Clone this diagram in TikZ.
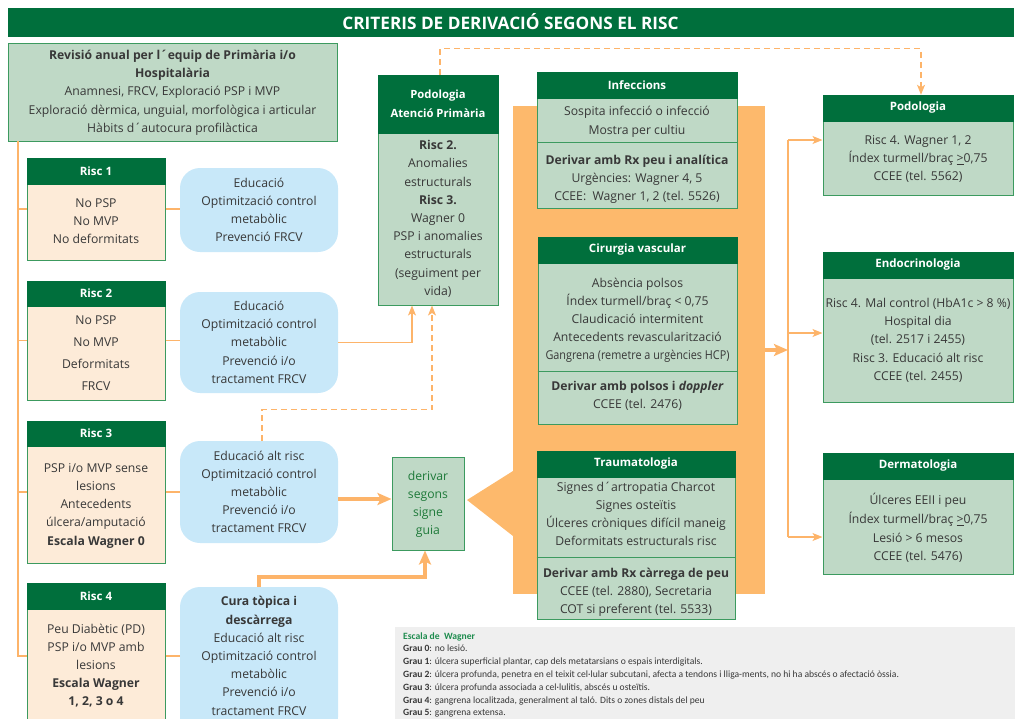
\documentclass[tikz,border=0pt]{standalone}
\usepackage{fontspec}
\usepackage{graphicx}
\setmainfont{Open Sans}
\newfontfamily\legendfont{Carlito}
\usetikzlibrary{arrows.meta}

\definecolor{hdgreen}{HTML}{006F3C}
\definecolor{panelgreen}{HTML}{BFD9C6}
\definecolor{edgegreen}{HTML}{3C9A5F}
\definecolor{peach}{HTML}{FDEBD8}
\definecolor{skyblue}{HTML}{C8E8F9}
\definecolor{orangefill}{HTML}{FDB96C}
\definecolor{orangeline}{HTML}{FDB46A}
\definecolor{inktext}{HTML}{383838}
\definecolor{guidegreen}{HTML}{1F7A3A}
\definecolor{legendgreen}{HTML}{1E8C4E}
\definecolor{legendgray}{HTML}{EFEFEF}

% "greater or equal" printed as an underlined >
\newcommand\undergt{\underline{>}}
% squeeze one line of text to at most a given width, keeping its height
\newsavebox\squeezebox
\newcommand\squeezeto[2]{\sbox\squeezebox{#2}%
  \ifdim\wd\squeezebox>#1pt\resizebox{#1pt}{\height}{\usebox\squeezebox}\else\usebox\squeezebox\fi}

\tikzset{
  hdr/.style={fill=hdgreen, draw=hdgreen, text=white, inner sep=0pt,
    font=\bfseries\fontsize{11.5}{13}\selectfont},
  panel/.style={fill=panelgreen, draw=edgegreen, line width=1pt, inner sep=0pt},
  riscframe/.style={fill=peach, draw=edgegreen, line width=1pt, inner sep=0pt},
  blob/.style={fill=skyblue, rounded corners=20pt, inner sep=0pt},
  body/.style={align=center, text=inktext, inner sep=0pt, yshift=-3pt,
    font=\fontsize{12.2}{18.2}\selectfont,
    execute at begin node=\strut, execute at end node=\strut},
  edge/.style={draw=edgegreen, line width=1pt},
  wire/.style={draw=orangeline, line width=1.2pt},
  wirearrow/.style={wire, -{Stealth[length=10pt,width=8pt,inset=2.5pt]}},
  dasharrow/.style={wirearrow, dash pattern=on 6pt off 4pt},
  fatarrow/.style={draw=orangeline, line width=4pt, -{Stealth[length=14pt,width=12pt,inset=3pt]}},
}

\begin{document}
\begin{tikzpicture}[x=1pt,y=-1pt]
\useasboundingbox (0,0) rectangle (1015,718);

% title bar
\node[hdr, minimum width=1005, minimum height=28,
  font=\bfseries\fontsize{17.2}{19}\selectfont] (title) at (510.5,22)
  {CRITERIS DE DERIVACIÓ SEGONS EL RISC};

% annual review
\node[panel, minimum width=329, minimum height=98] (review) at (172.5,92) {};
\node[body] (reviewtxt) at (172.5,91)
  {\textbf{Revisió anual per l´equip de Primària i/o}\\\textbf{Hospitalària}\\
   Anamnesi, FRCV, Exploració PSP i MVP\\
   \squeezeto{300}{Exploració dèrmica, unguial, morfològica i articular}\\
   Hàbits d´autocura profilàctica};

% risk levels
\node[riscframe, minimum width=138, minimum height=102] (risc1) at (96,209) {};
\node[hdr, minimum width=138, minimum height=26] (risc1h) at (96,171) {Risc 1};
\node[body] (risc1txt) at (96,221) {No PSP\\No MVP\\No deformitats};

\node[riscframe, minimum width=138, minimum height=119] (risc2) at (96,340.5) {};
\node[hdr, minimum width=138, minimum height=25] (risc2h) at (96,293.5) {Risc 2};
\node[body, font=\fontsize{12.2}{22}\selectfont] (risc2txt) at (96,353)
  {No PSP\\No MVP\\Deformitats\\FRCV};

\node[riscframe, minimum width=138, minimum height=142] (risc3) at (96,492) {};
\node[hdr, minimum width=138, minimum height=25] (risc3h) at (96,433.5) {Risc 3};
\node[body] (risc3txt) at (96,504)
  {PSP i/o MVP sense\\lesions\\Antecedents\\úlcera/amputació\\\textbf{Escala Wagner 0}};

\node[riscframe, minimum width=138, minimum height=146] (risc4) at (96,656) {};
\node[hdr, minimum width=138, minimum height=26] (risc4h) at (96,596) {Risc 4};
\node[body] (risc4txt) at (96,664.5)
  {Peu Diabètic (PD)\\PSP i/o MVP amb\\lesions\\\textbf{Escala Wagner}\\\textbf{1, 2, 3 o 4}};

% actions per risk level
\node[blob, minimum width=158, minimum height=84] (blob1) at (259,210) {};
\node[body] (blob1txt) at (259,209.5)
  {Educació\\Optimització control\\metabòlic\\Prevenció FRCV};
\node[blob, minimum width=158, minimum height=101] (blob2) at (259,342.5) {};
\node[body] (blob2txt) at (259,342)
  {Educació\\Optimització control\\metabòlic\\Prevenció i/o\\tractament FRCV};
\node[blob, minimum width=158, minimum height=102] (blob3) at (259,492) {};
\node[body] (blob3txt) at (259,491.5)
  {Educació alt risc\\Optimització control\\metabòlic\\Prevenció i/o\\tractament FRCV};
\node[blob, minimum width=158, minimum height=150] (blob4) at (259,662) {};
\node[body] (blob4txt) at (259,655.5)
  {\textbf{Cura tòpica i}\\\textbf{descàrrega}\\Educació alt risc\\Optimització control\\metabòlic\\Prevenció i/o\\tractament FRCV};

% primary-care podiatry
\node[panel, minimum width=120, minimum height=230] (podAP) at (438,190) {};
\node[hdr, minimum width=120, minimum height=58, align=center,
  font=\bfseries\fontsize{11.3}{19}\selectfont] (podAPh) at (438,104)
  {Podologia\\Atenció Primària};
\node[body] (podAPtxt) at (438,217.5)
  {\textbf{Risc 2.}\\Anomalies\\estructurals\\\textbf{Risc 3.}\\Wagner 0\\PSP i anomalies\\estructurals\\(seguiment per\\vida)};

% referral by guiding sign
\node[fill=orangefill, minimum width=252, minimum height=488, inner sep=0pt] (hub) at (639,350) {};
\fill[orangefill] (513,471) -- (467,500) -- (513,536) -- cycle;
\node[panel, minimum width=72, minimum height=93] (guide) at (428,503.5) {};
\node[body, text=guidegreen] (guidetxt) at (428,502.5) {derivar\\segons\\signe\\guia};

% infections
\node[panel, minimum width=200, minimum height=110] (infB) at (637,153) {};
\node[hdr, minimum width=200, minimum height=26] (infH) at (637,85) {Infeccions};
\draw[edge] (infB.west |- 0,142) -- (infB.east |- 0,142);
\node[body] (inftxtA) at (637,120) {Sospita infecció o infecció\\Mostra per cultiu};
\node[body] (inftxtB) at (637,177.5)
  {\textbf{Derivar amb Rx peu i analítica}\\Urgències: Wagner 4, 5\\CCEE:~ Wagner 1, 2 (tel. 5526)};

% vascular surgery
\node[panel, minimum width=199, minimum height=161] (vasB) at (637.5,343.5) {};
\node[hdr, minimum width=199, minimum height=26] (vasH) at (637.5,250) {Cirurgia vascular};
\draw[edge] (vasB.west |- 0,371) -- (vasB.east |- 0,371);
\node[body] (vastxtA) at (637.5,318.5)
  {Absència polsos\\Índex turmell/braç < 0,75\\Claudicació intermitent\\
   \squeezeto{172}{Antecedents revascularització}\\
   \squeezeto{184}{Gangrena (remetre a urgències HCP)}};
\node[body] (vastxtB) at (637.5,394.5)
  {\textbf{Derivar amb polsos i \textit{doppler}}\\CCEE (tel. 2476)};

% traumatology
\node[panel, minimum width=198, minimum height=142] (traB) at (636,548) {};
\node[hdr, minimum width=198, minimum height=26] (traH) at (636,464) {Traumatologia};
\draw[edge] (traB.west |- 0,557) -- (traB.east |- 0,557);
\node[body] (tratxtA) at (636,513.5)
  {Signes d´artropatia Charcot\\Signes osteïtis\\\squeezeto{184}{Úlceres cròniques difícil maneig}\\Deformitats estructurals risc};
\node[body] (tratxtB) at (636,590.5)
  {\squeezeto{186}{\textbf{Derivar amb Rx càrrega de peu}}\\CCEE (tel. 2880), Secretaria\\COT si preferent (tel. 5533)};

% hospital services
\node[panel, minimum width=190, minimum height=74] (podoR) at (918,158) {};
\node[hdr, minimum width=190, minimum height=26] (podoRh) at (918,108) {Podologia};
\node[body] (podoRtxt) at (918,158)
  {Risc 4. Wagner 1, 2\\Índex turmell/braç \undergt0,75\\CCEE (tel. 5562)};

\node[panel, minimum width=190, minimum height=124] (endo) at (918,340) {};
\node[hdr, minimum width=190, minimum height=26] (endoh) at (918,265) {Endocrinologia};
\node[body] (endotxt) at (918,339)
  {\squeezeto{186}{Risc 4. Mal control (HbA1c > 8 \%)}\\Hospital dia\\(tel. 2517 i 2455)\\Risc 3. Educació alt risc\\CCEE (tel. 2455)};

\node[panel, minimum width=190, minimum height=95] (derm) at (918,526.5) {};
\node[hdr, minimum width=190, minimum height=26] (dermh) at (918,466) {Dermatologia};
\node[body, font=\fontsize{12.2}{18.7}\selectfont] (dermtxt) at (918,527)
  {Úlceres EEII i peu\\Índex turmell/braç \undergt0,75\\Lesió > 6 mesos\\CCEE (tel. 5476)};

% Wagner scale
\node[fill=legendgray, minimum width=620, minimum height=93, inner sep=0pt] (legend) at (705,673.5) {};
\node[anchor=west, align=left, text=inktext, inner sep=0pt,
  font=\legendfont\fontsize{9.6}{12.8}\selectfont,
  execute at begin node=\strut, execute at end node=\strut] (legendtxt) at (403,676)
  {\textcolor{legendgreen}{\textbf{Escala de~ Wagner}}\\
   \textbf{Grau 0}: no lesió.\\
   \textbf{Grau 1}: úlcera superficial plantar, cap dels metatarsians o espais interdigitals.\\
   \textbf{Grau 2}: úlcera profunda, penetra en el teixit cel·lular subcutani, afecta a tendons i lliga-ments, no hi ha abscés o afectació òssia.\\
   \textbf{Grau 3}: úlcera profunda associada a cel·lulitis, abscés u osteïtis.\\
   \textbf{Grau 4}: gangrena localitzada, generalment al taló. Dits o zones distals del peu\\
   \textbf{Grau 5}: gangrena extensa.};

% left trunk from the annual review to every risk level
\coordinate (trunk) at (18,141);
\draw[wire] (trunk) |- (risc4.west);
\draw[wire] (trunk |- risc1.west) -- (risc1.west);
\draw[wire] (trunk |- risc2.west) -- (risc2.west);
\draw[wire] (trunk |- risc3.west) -- (risc3.west);

% risk level to its actions
\draw[wire] (risc1.east) -- (risc1.east -| blob1.west);
\draw[wire] (risc2.east) -- (risc2.east -| blob2.west);
\draw[wire] (risc3.east) -- (risc3.east -| blob3.west);
\draw[wire] (risc4.east) -- (risc4.east -| blob4.west);

% actions to primary-care podiatry and to the guide box
\draw[wirearrow] (blob2.east) -| ([xshift=-26pt]podAP.south);
\draw[dasharrow] ([xshift=3pt]blob3.north) -- ++(0,-31) -| ([xshift=-6pt]podAP.south);
\draw[fatarrow] ([yshift=-7pt]blob3.east) -- ([yshift=-7pt]blob3.east -| guide.west);
\draw[fatarrow] (blob4.north) -- ++(0,-10) -| ([xshift=-3pt]guide.south);
\draw[dasharrow] ([xshift=2pt]podAPh.north) -- ++(0,-26) -| ([xshift=3pt]podoRh.north);

% hub to hospital services
\coordinate (spineTop) at (788,140);
\coordinate (spineHub) at (788,350);
\coordinate (spineMid) at (788,333);
\coordinate (spineBot) at (788,537);
\draw[wire] (spineTop) -- (spineBot);
\draw[fatarrow] (hub.east |- spineHub) -- (spineHub);
\draw[wirearrow] (spineTop) -- (spineTop -| podoR.west);
\draw[wirearrow] (spineMid) -- (spineMid -| endo.west);
\draw[wirearrow] (spineBot) -- (spineBot -| derm.west);
\end{tikzpicture}
\end{document}
